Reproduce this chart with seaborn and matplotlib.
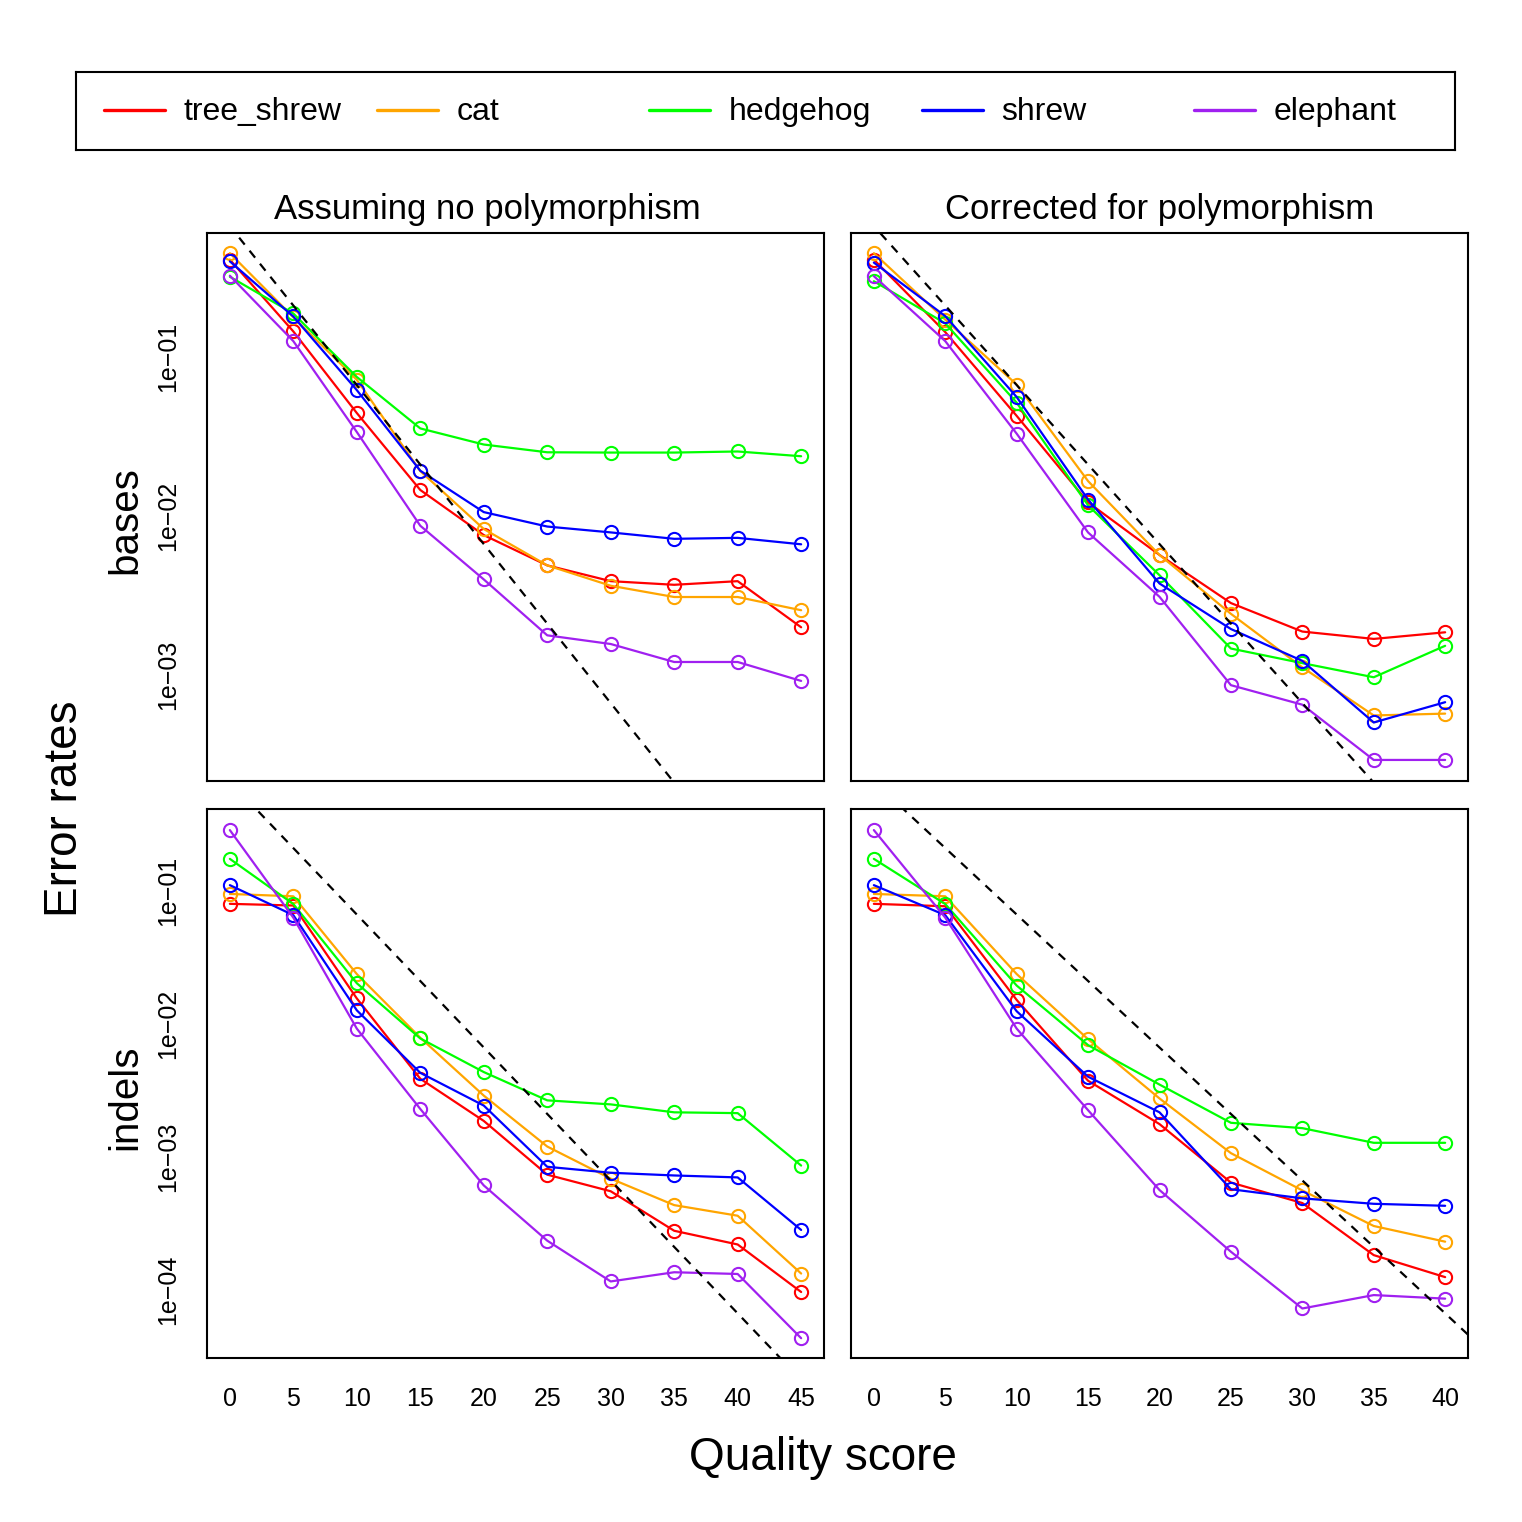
import numpy as np
import pandas as pd
import matplotlib
matplotlib.use('Agg')
import matplotlib.pyplot as plt
import seaborn as sns
from matplotlib.ticker import FixedLocator, FixedFormatter, NullLocator

# species and their R colours
species = ['tree_shrew', 'cat', 'hedgehog', 'shrew', 'elephant']
colors = ['#FF0000', '#FFA500', '#00FF00', '#0000FF', '#A020F0']

quality_left = [0, 5, 10, 15, 20, 25, 30, 35, 40, 45]
quality_right = [0, 5, 10, 15, 20, 25, 30, 35, 40]

# error rates
bases_nopoly = {
    'tree_shrew': [0.41, 0.145, 0.0445, 0.0146, 0.0076, 0.0049, 0.0039, 0.0037, 0.0039, 0.0020],
    'cat':        [0.45, 0.178, 0.072, 0.0192, 0.0083, 0.0049, 0.00365, 0.0031, 0.0031, 0.00256],
    'hedgehog':   [0.32, 0.188, 0.075, 0.0356, 0.0282, 0.0252, 0.0251, 0.0251, 0.0255, 0.0238],
    'shrew':      [0.40, 0.18, 0.062, 0.0193, 0.0106, 0.0086, 0.0079, 0.0072, 0.0073, 0.00665],
    'elephant':   [0.325, 0.126, 0.0338, 0.0087, 0.0040, 0.00178, 0.00157, 0.00121, 0.00121, 0.00092],
}
bases_corrected = {
    'tree_shrew': [0.41, 0.1436, 0.0427, 0.0122, 0.0057, 0.00284, 0.00188, 0.00169, 0.00186],
    'cat':        [0.45, 0.172, 0.0672, 0.0166, 0.0057, 0.00243, 0.00112, 0.000558, 0.000573],
    'hedgehog':   [0.30, 0.163, 0.0517, 0.0117, 0.00425, 0.00147, 0.00119, 0.00097, 0.00153],
    'shrew':      [0.393, 0.181, 0.0561, 0.0127, 0.00377, 0.00195, 0.00123, 0.000504, 0.000676],
    'elephant':   [0.323, 0.126, 0.033, 0.00789, 0.00311, 0.000865, 0.000652, 0.000293, 0.000293],
}
indels_nopoly = {
    'tree_shrew': [0.0803, 0.078, 0.0156, 0.00388, 0.00187, 0.000737, 0.000553, 0.000279, 0.00022, 0.0000966],
    'cat':        [0.0953, 0.0915, 0.0238, 0.0079, 0.0029, 0.0012, 0.000688, 0.000435, 0.000362, 0.000133],
    'hedgehog':   [0.175, 0.08, 0.0203, 0.0078, 0.00436, 0.00267, 0.00249, 0.00217, 0.00214, 0.000863],
    'shrew':      [0.111, 0.066, 0.0127, 0.0043, 0.00244, 0.000845, 0.000762, 0.000727, 0.000703, 0.000283],
    'elephant':   [0.288, 0.0632, 0.00925, 0.0023, 0.000612, 0.000235, 0.000116, 0.000136, 0.000132, 0.0000434],
}
indels_corrected = {
    'tree_shrew': [0.0803, 0.077, 0.0152, 0.00375, 0.00177, 0.000643, 0.000451, 0.000183, 0.000125],
    'cat':        [0.0953, 0.0915, 0.0238, 0.0077, 0.00276, 0.00107, 0.000561, 0.000303, 0.000231],
    'hedgehog':   [0.175, 0.08, 0.0195, 0.00695, 0.00351, 0.00181, 0.00165, 0.00128, 0.00128],
    'shrew':      [0.111, 0.066, 0.0125, 0.00402, 0.00217, 0.000573, 0.000489, 0.000445, 0.00043],
    'elephant':   [0.288, 0.0632, 0.00925, 0.00225, 0.000565, 0.000194, 0.0000726, 0.0000916, 0.0000861],
}

# dashed reference line (two end points)
ref_q = [-5, 55]
ref_err = [2.11, 2.11e-6]

ytick_top = [1e-1, 1e-2, 1e-3]
ytick_top_labels = ['1e\u221201', '1e\u221202', '1e\u221203']
ytick_bottom = [1e-1, 1e-2, 1e-3, 1e-4]
ytick_bottom_labels = ['1e\u221201', '1e\u221202', '1e\u221203', '1e\u221204']

sns.set_theme(style='white')
plt.rcParams['font.family'] = ['Liberation Sans', 'DejaVu Sans']
plt.rcParams['text.color'] = 'black'


def to_long(q, data):
    rows = []
    for sp in species:
        for x, y in zip(q, data[sp]):
            rows.append({'quality': x, 'error': y, 'species': sp})
    return pd.DataFrame(rows)


def draw_panel(ax, q, data, ylim, xlim):
    df = to_long(q, data)
    ax.set_yscale('log')
    for sp, col in zip(species, colors):
        sns.lineplot(data=df[df['species'] == sp], x='quality', y='error', ax=ax,
                     color=col, linewidth=1.6, marker='o', markersize=9.5,
                     markerfacecolor='none', markeredgecolor=col, markeredgewidth=1.5,
                     errorbar=None, legend=False)
    ax.plot(ref_q, ref_err, color='black', linewidth=1.6, linestyle=(0, (4, 3.5)))
    ax.set_xlim(xlim)
    ax.set_ylim(ylim)
    ax.set_xlabel('')
    ax.set_ylabel('')
    ax.yaxis.set_minor_locator(NullLocator())
    for s in ax.spines.values():
        s.set_color('black')
        s.set_linewidth(1.5)
    ax.tick_params(axis='both', direction='out', length=7, width=1.3,
                   labelsize=18, color='black', labelcolor='black')


fig = plt.figure(figsize=(15.22, 15.22), dpi=100)
W = 1522.0

def px_axes(x0, y0, x1, y1):
    return fig.add_axes([x0 / W, 1 - y1 / W, (x1 - x0) / W, (y1 - y0) / W])

ax_tl = px_axes(207, 233, 824, 781)
ax_tr = px_axes(851, 233, 1468, 781)
ax_bl = px_axes(207, 809, 824, 1358)
ax_br = px_axes(851, 809, 1468, 1358)

ylim_top = (2.16e-4, 0.603)
ylim_bottom = (3.08e-5, 0.415)
xlim_left = (-1.8, 46.8)
xlim_right = (-1.6, 41.6)

draw_panel(ax_tl, quality_left, bases_nopoly, ylim_top, xlim_left)
draw_panel(ax_tr, quality_right, bases_corrected, ylim_top, xlim_right)
draw_panel(ax_bl, quality_left, indels_nopoly, ylim_bottom, xlim_left)
draw_panel(ax_br, quality_right, indels_corrected, ylim_bottom, xlim_right)

# x axes only on the bottom row
for ax in [ax_tl, ax_tr]:
    ax.tick_params(axis='x', bottom=False, labelbottom=False)
ax_bl.set_xticks(quality_left)
ax_br.set_xticks(quality_right)
for ax in [ax_bl, ax_br]:
    ax.tick_params(axis='x', pad=14)

# y axes only on the left column
for ax in [ax_tr, ax_br]:
    ax.tick_params(axis='y', left=False, labelleft=False)
for ax, ticks, labels in [(ax_tl, ytick_top, ytick_top_labels),
                          (ax_bl, ytick_bottom, ytick_bottom_labels)]:
    ax.yaxis.set_major_locator(FixedLocator(ticks))
    ax.yaxis.set_major_formatter(FixedFormatter(labels))
    ax.tick_params(axis='y', pad=12)
    for lab in ax.get_yticklabels():
        lab.set_rotation(90)
        lab.set_va('center')

ax_tl.set_title('Assuming no polymorphism', fontsize=25, pad=10, x=0.455, color='black')
ax_tr.set_title('Corrected for polymorphism', fontsize=25, pad=10, color='black')

fig.text(125 / W, 1 - 520 / W, 'bases', rotation=90, fontsize=29, ha='center', va='center')
fig.text(125 / W, 1 - 1097 / W, 'indels', rotation=90, fontsize=29, ha='center', va='center')
fig.text(65 / W, 1 - 809 / W, 'Error rates', rotation=90, fontsize=33, ha='center', va='center')
fig.text(823 / W, 1 - 1458 / W, 'Quality score', fontsize=33, ha='center', va='center')

# legend box across the top
ax_leg = px_axes(76, 72, 1455, 150)
ax_leg.set_xlim(76, 1455)
ax_leg.set_ylim(150, 72)
ax_leg.set_xticks([])
ax_leg.set_yticks([])
for s in ax_leg.spines.values():
    s.set_color('black')
    s.set_linewidth(1.5)
for i, (sp, col) in enumerate(zip(species, colors)):
    x0 = 104 + 272.5 * i
    ax_leg.plot([x0, x0 + 61], [110, 110], color=col, linewidth=2.4)
    ax_leg.text(x0 + 80, 112, sp, fontsize=23, ha='left', va='center')

fig.savefig('out.png', dpi=100)
